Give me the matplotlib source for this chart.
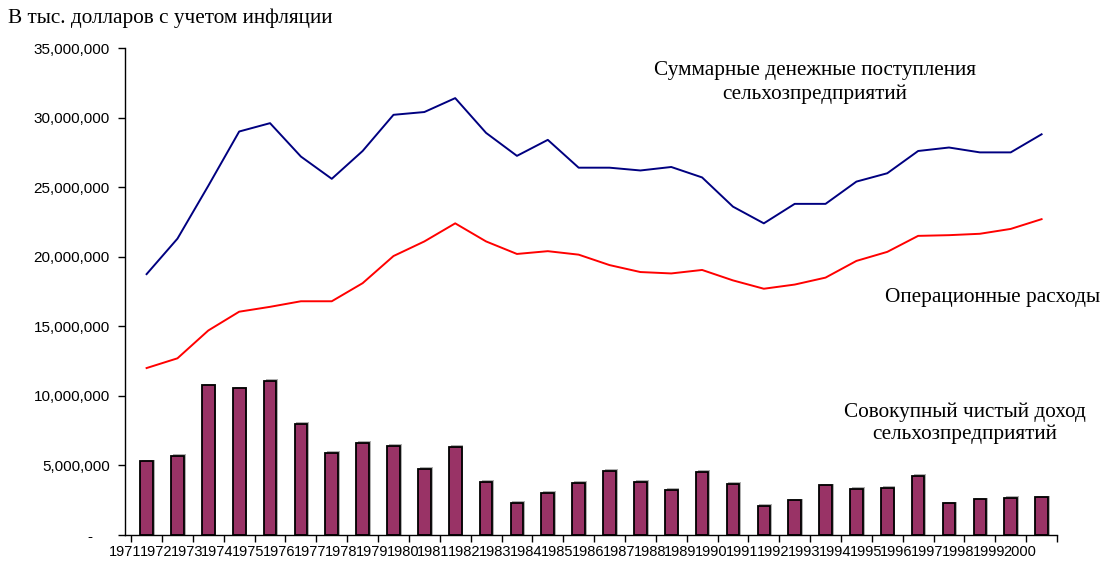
import matplotlib
matplotlib.use("Agg")
import matplotlib.pyplot as plt
import numpy as np
from matplotlib.ticker import FuncFormatter

# --- data (values in dollars) ---
years = list(range(1971, 2001))

cash_receipts = [
    18.75, 21.3, 25.1, 29.0, 29.6, 27.2, 25.6, 27.6, 30.2, 30.4,
    31.4, 28.9, 27.25, 28.4, 26.4, 26.4, 26.2, 26.45, 25.7, 23.6,
    22.4, 23.8, 23.8, 25.4, 26.0, 27.6, 27.85, 27.5, 27.5, 28.8,
]
operating_costs = [
    12.0, 12.7, 14.7, 16.05, 16.4, 16.8, 16.8, 18.1, 20.05, 21.1,
    22.4, 21.1, 20.2, 20.4, 20.15, 19.4, 18.9, 18.8, 19.05, 18.3,
    17.7, 18.0, 18.5, 19.7, 20.35, 21.5, 21.55, 21.65, 22.0, 22.7,
]
net_income = [
    5.3, 5.7, 10.75, 10.55, 11.1, 7.97, 5.93, 6.63, 6.4, 4.74,
    6.34, 3.8, 2.32, 3.04, 3.74, 4.6, 3.81, 3.23, 4.55, 3.66,
    2.11, 2.49, 3.57, 3.3, 3.38, 4.24, 2.27, 2.56, 2.66, 2.7,
]

cash_receipts = np.array(cash_receipts) * 1e6
operating_costs = np.array(operating_costs) * 1e6
net_income = np.array(net_income) * 1e6

x = np.arange(len(years))

plt.rcParams["font.family"] = ["Liberation Sans", "DejaVu Sans"]

fig = plt.figure(figsize=(11.13, 5.67), dpi=100)
ax = fig.add_axes([0.1123, 0.0564, 0.8374, 0.8589])

# bars with a light shadow like the original Excel chart
bar_w = 0.41
ax.bar(x + 0.06, net_income + 0.12e6, width=bar_w, color="#b0b0b0", zorder=1)
ax.bar(x, net_income, width=bar_w, color="#993366", edgecolor="black",
       linewidth=1.3, zorder=2)

ax.plot(x, cash_receipts, color="#000080", linewidth=1.4, zorder=3)
ax.plot(x, operating_costs, color="#ff0000", linewidth=1.4, zorder=3)

ax.set_xlim(-0.5, len(years) - 0.5)
ax.set_ylim(0, 35e6)
ax.set_yticks(np.arange(0, 35e6 + 1, 5e6))
ax.yaxis.set_major_formatter(
    FuncFormatter(lambda v, _: "-    " if v == 0 else f"{v:,.0f}"))
ax.tick_params(axis="y", direction="out", length=5, width=1, labelsize=11,
               pad=6)

# tick marks on category boundaries, labels shifted left as in the reference
ax.set_xticks(np.arange(len(years) + 1) - 0.5)
ax.set_xticklabels([])
ax.set_xticks(x - 0.7, minor=True)
ax.set_xticklabels([str(y) for y in years], minor=True)
ax.tick_params(axis="x", which="major", direction="out", length=5, width=1)
ax.tick_params(axis="x", which="minor", length=0, labelsize=10.5, pad=7)

for side in ("top", "right"):
    ax.spines[side].set_visible(False)
for side in ("left", "bottom"):
    ax.spines[side].set_linewidth(1)

serif = ["Liberation Serif", "DejaVu Serif"]
fig.text(0.007, 0.968, "В тыс. долларов с учетом инфляции", family=serif,
         fontsize=15.3, ha="left", va="center")
fig.text(0.732, 0.8545, "Суммарные денежные поступления\nсельхозпредприятий",
         family=serif, fontsize=15.3, ha="center", va="center",
         linespacing=1.3)
fig.text(0.892, 0.476, "Операционные расходы", family=serif, fontsize=15.3,
         ha="center", va="center")
fig.text(0.867, 0.254, "Совокупный чистый доход\nсельхозпредприятий",
         family=serif, fontsize=15.3, ha="center", va="center",
         linespacing=1.15)

fig.savefig("out.png", dpi=100)
